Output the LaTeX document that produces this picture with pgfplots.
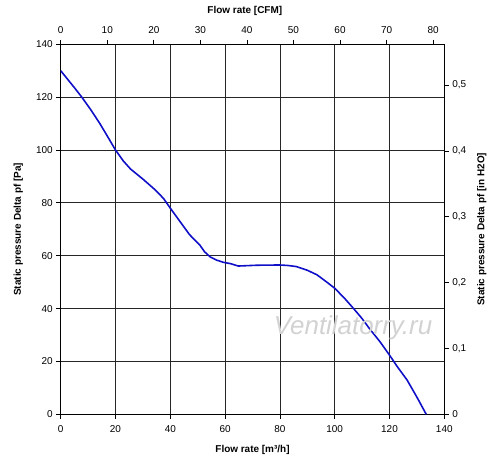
\documentclass[border=0pt]{standalone}
\usepackage{pgfplots}
\pgfplotsset{compat=1.18}
\usepackage{fontspec}
\setmainfont{Liberation Sans}
\definecolor{curve}{RGB}{15,15,200}
\pgfplotsset{
  /pgf/number format/assume math mode=true,
  common/.style={
    scale only axis, width=383.6bp, height=370bp,
    tick align=outside, major tick length=4.5bp,
    tick style={black, line width=0.8pt},
    axis line style={black, line width=1.5pt},
    ticklabel style={font=\fontsize{10}{12}\selectfont},
    label style={font=\bfseries\fontsize{10}{12}\selectfont},
  }
}
\begin{document}
\begin{tikzpicture}
\begin{axis}[common,
  xmin=0, xmax=140, ymin=0, ymax=140,
  xtick={0,20,...,140}, ytick={0,20,...,140},
  grid=major, major grid style={black!85, line width=0.8pt},
  axis x line*=bottom, axis y line*=left,
  xticklabel style={yshift=-3.5bp},
  xlabel={Flow rate [m³/h]},
  ylabel={Static pressure Delta pf [Pa]},
  xlabel style={at={(axis description cs:0.5,-0.0965)}, anchor=center},
  ylabel style={at={(axis description cs:-0.1105,0.5)}, anchor=center},
]
\coordinate (ll) at (rel axis cs:0,0);
\addplot[curve, line width=1.6pt] coordinates {
(0,130) (2.5,126.8) (5,123.6) (7.7,120) (11,115.2) (14.3,110) (17,105.3)
(20,100) (22.9,95.8) (25.5,92.8) (30,89) (34.4,85) (37.5,81.7) (40,78)
(43.5,73) (47,68) (50.8,64) (52.5,61.5) (54.5,59.6) (57,58.3) (59.4,57.5) (62,57) (64.8,56.1)
(71.5,56.4) (80,56.5) (83,56.3) (86,55.9) (90,54.5) (93.5,52.8) (96.5,50.5)
(100,47.7) (103.5,44) (106.9,40) (110,36.2) (113,32) (116.5,27.5) (120,22.4) (123,17.8) (126.4,13)
(130,6.5) (133.4,0)
};
\node[font=\itshape\fontsize{26}{26}\selectfont, text=gray!35] at (axis cs:106.7,32.8) {Ventilatorry.ru};
\end{axis}
\begin{axis}[common,
  xmin=0, xmax=82.40, ymin=0, ymax=140,
  axis x line*=top, axis y line=none,
  xtick={0,10,...,80},
  xticklabel style={yshift=2.5bp},
  xlabel={Flow rate [CFM]},
  xlabel style={at={(axis description cs:0.48,1.09)}, anchor=center},
]
\addplot[draw=none] coordinates {(0,0)};
\end{axis}
\begin{axis}[common,
  xmin=0, xmax=140, ymin=0, ymax=0.56205,
  axis y line*=right, axis x line=none,
  ytick={0,0.1,0.2,0.3,0.4,0.5},
  yticklabel style={/pgf/number format/.cd, use comma, fixed, precision=1},
  ylabel={Static pressure Delta pf [in H2O]},
  ylabel style={at={(axis description cs:1.0975,0.5)}, anchor=center},
]
\addplot[draw=none] coordinates {(0,0)};
\end{axis}
\pgfresetboundingbox
\path (ll) ++(-60.7bp,-45.7bp) rectangle ++(500bp,460bp);
\end{tikzpicture}
\end{document}
